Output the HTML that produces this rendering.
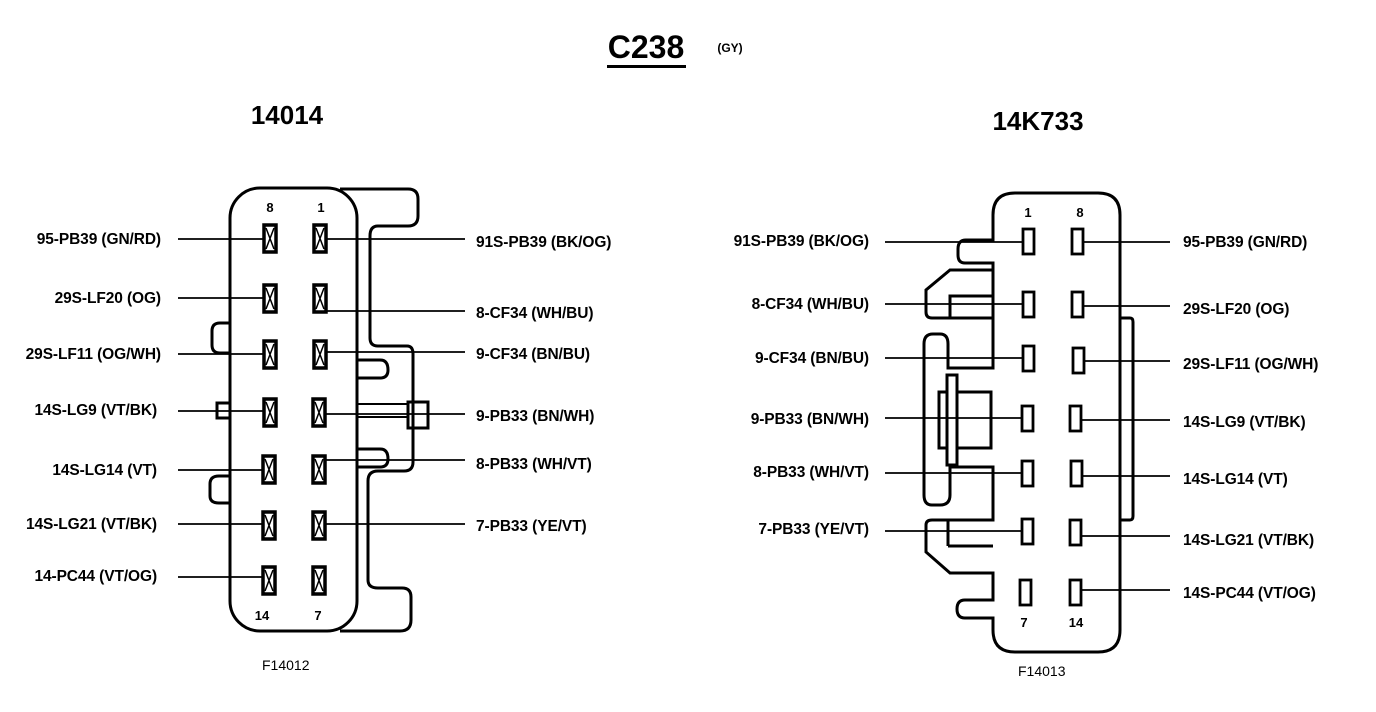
<!DOCTYPE html>
<html><head><meta charset="utf-8"><style>
html,body{margin:0;padding:0;background:#fff;}
svg{display:block;}
text{font-family:"Liberation Sans",Arial,sans-serif;fill:#000;}
.l{font-size:15.5px;font-weight:bold;letter-spacing:-0.1px;}
</style></head><body>
<svg width="1376" height="712" viewBox="0 0 1376 712" xmlns="http://www.w3.org/2000/svg">
<text x="646" y="58" font-size="32" font-weight="bold" text-anchor="middle">C238</text>
<rect x="607" y="65" width="79" height="3" fill="#000"/>
<text x="730" y="52" font-size="12" font-weight="bold" text-anchor="middle">(GY)</text>
<text x="287" y="124" font-size="26" font-weight="bold" text-anchor="middle">14014</text>
<text x="1038" y="130" font-size="26" font-weight="bold" text-anchor="middle">14K733</text>

<g fill="none" stroke="#000" stroke-width="3">
<rect x="230" y="188" width="127" height="443" rx="30"/>
<path d="M340 189 H408 Q418 189 418 199 V216 Q418 226 408 226 H378 Q370 226 370 236 V338 Q370 346 378 346 H407 Q413 346 413 354 V462 Q413 471 404 471 H378 Q368 471 368 481 V580 Q368 588 378 588 H402 Q411 588 411 597 V620 Q411 631 400 631 H340"/>
<path d="M356 360 H380 Q388 360 388 370 Q388 378 380 378 H357 V449 H380 Q388 449 388 459 Q388 467 380 467 H357"/>
<rect x="408" y="402" width="20" height="26"/>
<path d="M357 404 H408 M357 417 H408" stroke-width="2"/>
<path d="M230 323 H220 Q212 323 212 331 V345 Q212 353 220 353 H230"/>
<path d="M230 403 H217 V418 H230"/>
<path d="M230 476 H219 Q210 476 210 484 V496 Q210 503 219 503 H230"/>
<path d="M1030 193 H1098 Q1120 193 1120 215 V630 Q1120 652 1098 652 H1015 Q993 652 993 630 V618 H965 Q957 618 957 609 Q957 600 965 600 H993 V573 H950 L926 552 V525 Q926 520 932 520 H993 V467 H950 V495 Q950 505 940 505 H932 Q924 505 924 495 V344 Q924 334 933 334 H940 Q948 334 948 344 V368 H993 V270 H950 L926 290 V312 Q926 318 932 318 H993 V263 H965 Q958 263 958 255 V249 Q958 240 966 240 H993 V215 Q993 193 1015 193 Z"/>
<path d="M950 318 V296 H993 M948 546 V520 M948 546 H993"/>
<rect x="947" y="375" width="10" height="90"/>
<rect x="939" y="392" width="8" height="56"/>
<rect x="957" y="392" width="34" height="56"/>
<path d="M1120 318 H1130 Q1133 318 1133 322 V516 Q1133 520 1130 520 H1120"/>
</g>

<g stroke="#000" fill="none">
<g stroke-width="3.5">
<rect x="264" y="225" width="12" height="27"/><rect x="314" y="225" width="12" height="27"/>
<rect x="264" y="285" width="12" height="27"/><rect x="314" y="285" width="12" height="27"/>
<rect x="264" y="341" width="12" height="27"/><rect x="314" y="341" width="12" height="27"/>
<rect x="264" y="399" width="12" height="27"/><rect x="313" y="399" width="12" height="27"/>
<rect x="263" y="456" width="12" height="27"/><rect x="313" y="456" width="12" height="27"/>
<rect x="263" y="512" width="12" height="27"/><rect x="313" y="512" width="12" height="27"/>
<rect x="263" y="567" width="12" height="27"/><rect x="313" y="567" width="12" height="27"/>
</g>
<g stroke-width="1.5">
<path d="M266 228 L274 249 M274 228 L266 249 M316 228 L324 249 M324 228 L316 249"/>
<path d="M266 288 L274 309 M274 288 L266 309 M316 288 L324 309 M324 288 L316 309"/>
<path d="M266 344 L274 365 M274 344 L266 365 M316 344 L324 365 M324 344 L316 365"/>
<path d="M266 402 L274 423 M274 402 L266 423 M315 402 L323 423 M323 402 L315 423"/>
<path d="M265 459 L273 480 M273 459 L265 480 M315 459 L323 480 M323 459 L315 480"/>
<path d="M265 515 L273 536 M273 515 L265 536 M315 515 L323 536 M323 515 L315 536"/>
<path d="M265 570 L273 591 M273 570 L265 591 M315 570 L323 591 M323 570 L315 591"/>
</g>
<g stroke-width="2.8">
<rect x="1023" y="229" width="11" height="25"/><rect x="1072" y="229" width="11" height="25"/>
<rect x="1023" y="292" width="11" height="25"/><rect x="1072" y="292" width="11" height="25"/>
<rect x="1023" y="346" width="11" height="25"/><rect x="1073" y="348" width="11" height="25"/>
<rect x="1022" y="406" width="11" height="25"/><rect x="1070" y="406" width="11" height="25"/>
<rect x="1022" y="461" width="11" height="25"/><rect x="1071" y="461" width="11" height="25"/>
<rect x="1022" y="519" width="11" height="25"/><rect x="1070" y="520" width="11" height="25"/>
<rect x="1020" y="580" width="11" height="25"/><rect x="1070" y="580" width="11" height="25"/>
</g>
<g stroke-width="1.8">
<path d="M178 239 H264 M178 298 H264 M178 354 H264 M178 411 H264 M178 470 H263 M178 524 H263 M178 577 H263"/>
<path d="M326 239 H465 M326 311 H465 M326 352 H465 M326 414 H465 M326 460 H465 M325 524 H465"/>
<path d="M885 242 H1023 M885 304 H1023 M885 358 H1023 M885 418 H1022 M885 473 H1022 M885 531 H1022"/>
<path d="M1083 242 H1170 M1083 306 H1170 M1084 361 H1170 M1081 420 H1170 M1082 476 H1170 M1081 536 H1170 M1081 590 H1170"/>
</g>
</g>

<g font-size="13" font-weight="bold" text-anchor="middle">
<text x="270" y="212">8</text><text x="321" y="212">1</text>
<text x="262" y="620">14</text><text x="318" y="620">7</text>
<text x="1028" y="217">1</text><text x="1080" y="217">8</text>
<text x="1024" y="627">7</text><text x="1076" y="627">14</text>
</g>

<g class="l" text-anchor="end">
<text x="161" y="244">95-PB39 (GN/RD)</text>
<text x="161" y="303">29S-LF20 (OG)</text>
<text x="161" y="359">29S-LF11 (OG/WH)</text>
<text x="157" y="415">14S-LG9 (VT/BK)</text>
<text x="157" y="475">14S-LG14 (VT)</text>
<text x="157" y="529">14S-LG21 (VT/BK)</text>
<text x="157" y="581">14-PC44 (VT/OG)</text>
<text x="869" y="246">91S-PB39 (BK/OG)</text>
<text x="869" y="309">8-CF34 (WH/BU)</text>
<text x="869" y="363">9-CF34 (BN/BU)</text>
<text x="869" y="424">9-PB33 (BN/WH)</text>
<text x="869" y="477">8-PB33 (WH/VT)</text>
<text x="869" y="534">7-PB33 (YE/VT)</text>
</g>
<g class="l">
<text x="476" y="247">91S-PB39 (BK/OG)</text>
<text x="476" y="318">8-CF34 (WH/BU)</text>
<text x="476" y="359">9-CF34 (BN/BU)</text>
<text x="476" y="421">9-PB33 (BN/WH)</text>
<text x="476" y="469">8-PB33 (WH/VT)</text>
<text x="476" y="531">7-PB33 (YE/VT)</text>
<text x="1183" y="247">95-PB39 (GN/RD)</text>
<text x="1183" y="314">29S-LF20 (OG)</text>
<text x="1183" y="369">29S-LF11 (OG/WH)</text>
<text x="1183" y="427">14S-LG9 (VT/BK)</text>
<text x="1183" y="484">14S-LG14 (VT)</text>
<text x="1183" y="545">14S-LG21 (VT/BK)</text>
<text x="1183" y="598">14S-PC44 (VT/OG)</text>
</g>
<g font-size="14">
<text x="262" y="670">F14012</text>
<text x="1018" y="676">F14013</text>
</g>
</svg>
</body></html>
